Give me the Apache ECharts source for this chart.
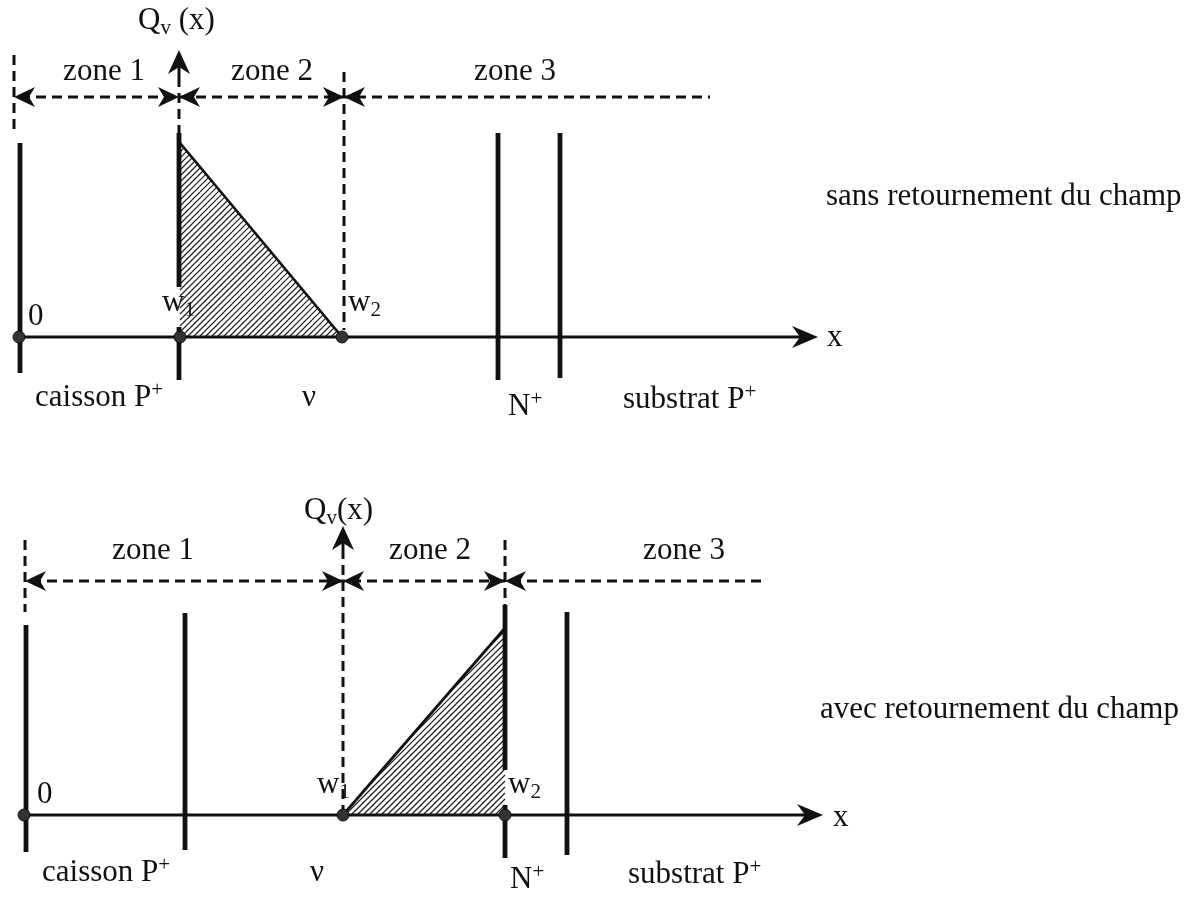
<!DOCTYPE html>
<html><head><meta charset="utf-8">
<script src="https://cdn.jsdelivr.net/npm/echarts@6/dist/echarts.min.js"></script>
<style>html,body{margin:0;padding:0;background:#fff}#c{width:1201px;height:898px}</style>
</head><body><div id="c"></div>
<script>
// ---------------- data (diagram units) ----------------
const panelTitles = ['sans retournement du champ', 'avec retournement du champ'];

// top panel : sans retournement du champ
const topAxisX = [1.4, 81.8];                      // x axis from .. to (arrow tip)
const topZoneBounds = [1.4, 17.9, 34.4];           // zone limits (dashed)
const topZoneLine = [1.4, 71.0, 24.0];             // x start, x end, y level
const topBoundaryDashes = [[1.4, 28.2, 20.7], [34.4, 26.5, 0.7]]; // x, y top, y bottom
const topQv = [17.9, 28.7, 26.0, 20.4];            // x, arrow tip, dash top, dash bottom
const topSolids = [[2.0, 19.4, -3.6], [17.9, 20.4, 5.0], [17.9, 1.0, -4.3], [49.8, 20.4, -4.3], [56.0, 20.4, -4.1]];
const topTriangle = [[18.0, 19.4], [18.0, 0], [34.2, 0]];
const topHyp = [[18.0, 19.4], [34.2, 0]];
const topDots = [1.9, 18.0, 34.2];
const topLabels = [
  [['Q', '_v', ' (x)'], 13.8, 30.6, 'left'],
  [['zone 1'], 10.4, 25.5, 'center'],
  [['zone 2'], 27.2, 25.5, 'center'],
  [['zone 3'], 51.5, 25.5, 'center'],
  [['0'], 2.8, 1.0, 'left'],
  [['w', '_1'], 16.2, 2.4, 'left'],
  [['w', '_2'], 34.8, 2.4, 'left'],
  [['caisson P', '^+'], 3.5, -7.1, 'left'],
  [['\u03bd'], 30.2, -7.1, 'left'],
  [['N', '^+'], 50.8, -8.0, 'left'],
  [['substrat P', '^+'], 62.3, -7.3, 'left'],
  [['x'], 82.7, -1.1, 'left'],
  [[panelTitles[0]], 82.6, 13.0, 'left']
];

// bottom panel : avec retournement du champ
const botAxisX = [2.4, 82.3];
const botZoneBounds = [2.5, 34.3, 50.5];
const botZoneLine = [2.5, 76.3, 23.4];
const botBoundaryDashes = [[2.5, 27.5, 20.3], [50.5, 27.5, 21.0]];
const botQv = [34.3, 28.9, 26.6, 0];
const botSolids = [[2.6, 19.0, -3.7], [18.5, 20.2, -3.5], [50.5, 21.0, 4.5], [50.5, 1.0, -4.3], [56.7, 20.3, -4.0]];
const botTriangle = [[34.3, 0], [50.5, 0], [50.5, 18.7]];
const botHyp = [[34.3, 0], [50.5, 18.7]];
const botDots = [2.4, 34.3, 50.5];
const botLabels = [
  [['Q', '_v', '(x)'], 30.4, 29.4, 'left'],
  [['zone 1'], 15.3, 25.4, 'center'],
  [['zone 2'], 43.0, 25.4, 'center'],
  [['zone 3'], 68.4, 25.4, 'center'],
  [['0'], 3.7, 1.0, 'left'],
  [['w', '_1'], 31.7, 2.0, 'left'],
  [['w', '_2'], 50.8, 2.0, 'left'],
  [['caisson P', '^+'], 4.2, -6.8, 'left'],
  [['\u03bd'], 31.0, -6.8, 'left'],
  [['N', '^+'], 51.0, -7.5, 'left'],
  [['substrat P', '^+'], 62.8, -7.0, 'left'],
  [['x'], 83.3, -1.3, 'left'],
  [[panelTitles[1]], 82.0, 9.5, 'left']
];

// ---------------- drawing ----------------
const FONT = '"Liberation Serif", "Times New Roman", serif';
const BASE = 31, SMALL = 21;
const mctx = document.createElement('canvas').getContext('2d');
function measure(t, size) { mctx.font = size + 'px ' + FONT; return mctx.measureText(t).width; }

function dart(tip, dir, L, W, notch) {
  const [tx, ty] = tip, [dx, dy] = dir, px = -dy, py = dx;
  const bx = tx - dx * L, by = ty - dy * L;
  const nx = tx - dx * (L - notch), ny = ty - dy * (L - notch);
  return [[tx, ty], [bx + px * W, by + py * W], [nx, ny], [bx - px * W, by - py * W]];
}

function hatchLines(pts, step) {
  const sums = pts.map(p => p[0] + p[1]);
  const lo = Math.min(...sums), hi = Math.max(...sums);
  const out = [];
  for (let c = lo + step / 2; c < hi; c += step) {
    const hits = [];
    for (let i = 0; i < pts.length; i++) {
      const p = pts[i], q = pts[(i + 1) % pts.length];
      const fp = p[0] + p[1] - c, fq = q[0] + q[1] - c;
      if (fp === fq) continue;
      if (fp * fq <= 0) {
        const t = fp / (fp - fq);
        hits.push([p[0] + (q[0] - p[0]) * t, p[1] + (q[1] - p[1]) * t]);
      }
    }
    if (hits.length >= 2) {
      hits.sort((a, b) => a[0] - b[0]);
      out.push([hits[0], hits[hits.length - 1]]);
    }
  }
  return out;
}

function textGroup(parts, x, y, align) {
  // y is the baseline (pixels)
  const items = parts.map(s => {
    let kind = 'n', t = s;
    if (s[0] === '_') { kind = 'sub'; t = s.slice(1); }
    else if (s[0] === '^') { kind = 'sup'; t = s.slice(1); }
    const size = kind === 'n' ? BASE : SMALL;
    return { t, kind, size, w: measure(t, size) };
  });
  const total = items.reduce((a, b) => a + b.w, 0);
  let cx = align === 'center' ? x - total / 2 : x;
  const els = [];
  items.forEach(it => {
    let by = y;
    if (it.kind === 'sub') by = y + 5;
    if (it.kind === 'sup') by = y - 10;
    els.push({
      type: 'text', x: cx, y: by - 0.34 * it.size,
      style: { text: it.t, fontFamily: FONT, fontSize: it.size, fill: '#111', align: 'left', verticalAlign: 'middle' }
    });
    cx += it.w;
  });
  return els;
}

function makeRender(P) {
  return function (params, api) {
    const C = (x, y) => api.coord([x, y]);
    const ch = [];
    const ink = '#111';
    // hatching
    const tri = P.triangle.map(p => C(p[0], p[1]));
    hatchLines(tri, 6).forEach(([a, b]) => ch.push({ type: 'line', shape: { x1: a[0], y1: a[1], x2: b[0], y2: b[1] }, style: { stroke: '#222', lineWidth: 1.2 } }));
    // hypotenuse
    const h0 = C(P.hyp[0][0], P.hyp[0][1]), h1 = C(P.hyp[1][0], P.hyp[1][1]);
    ch.push({ type: 'line', shape: { x1: h0[0], y1: h0[1], x2: h1[0], y2: h1[1] }, style: { stroke: ink, lineWidth: 2.7 } });
    // x axis
    const a0 = C(P.axisX[0], 0), a1 = C(P.axisX[1], 0);
    ch.push({ type: 'line', shape: { x1: a0[0], y1: a0[1], x2: a1[0] - 10, y2: a1[1] }, style: { stroke: ink, lineWidth: 3.2 } });
    ch.push({ type: 'polygon', shape: { points: dart(a1, [1, 0], 26, 11, 8) }, style: { fill: ink } });
    // solid device lines
    P.solids.forEach(s => {
      const p = C(s[0], s[1]), q = C(s[0], s[2]);
      ch.push({ type: 'line', shape: { x1: p[0], y1: p[1], x2: q[0], y2: q[1] }, style: { stroke: ink, lineWidth: 4.8 } });
    });
    // dashed boundaries
    const dashStyle = { stroke: ink, lineWidth: 3, lineDash: [10, 6] };
    P.boundaryDashes.forEach(s => {
      const p = C(s[0], s[1]), q = C(s[0], s[2]);
      ch.push({ type: 'line', shape: { x1: p[0], y1: p[1], x2: q[0], y2: q[1] }, style: dashStyle });
    });
    // Qv axis (dashed + arrow)
    const qt = C(P.qv[0], P.qv[1]), qa = C(P.qv[0], P.qv[2]), qb = C(P.qv[0], P.qv[3]);
    ch.push({ type: 'line', shape: { x1: qa[0], y1: qa[1], x2: qb[0], y2: qb[1] }, style: dashStyle });
    ch.push({ type: 'line', shape: { x1: qt[0], y1: qt[1] + 10, x2: qa[0], y2: qa[1] }, style: { stroke: ink, lineWidth: 3 } });
    ch.push({ type: 'polygon', shape: { points: dart(qt, [0, -1], 24, 11, 7) }, style: { fill: ink } });
    // zone line
    const z0 = C(P.zoneLine[0], P.zoneLine[2]), z1 = C(P.zoneLine[1], P.zoneLine[2]);
    ch.push({ type: 'line', shape: { x1: z0[0] + 6, y1: z0[1], x2: z1[0], y2: z1[1] }, style: dashStyle });
    P.zoneBounds.forEach((b, i) => {
      const t = C(b, P.zoneLine[2]);
      ch.push({ type: 'polygon', shape: { points: dart(t, [-1, 0], 21, 10, 6) }, style: { fill: ink } });
      if (i > 0) ch.push({ type: 'polygon', shape: { points: dart(t, [1, 0], 21, 10, 6) }, style: { fill: ink } });
    });
    // dots
    P.dots.forEach(d => {
      const c = C(d, 0);
      ch.push({ type: 'circle', shape: { cx: c[0], cy: c[1], r: 6 }, style: { fill: '#333', stroke: ink, lineWidth: 1 } });
    });
    // labels
    P.labels.forEach(l => {
      const p = C(l[1], l[2]);
      textGroup(l[0], p[0], p[1], l[3]).forEach(e => ch.push(e));
    });
    return { type: 'group', children: ch };
  };
}

const topPanel = { axisX: topAxisX, zoneBounds: topZoneBounds, zoneLine: topZoneLine, boundaryDashes: topBoundaryDashes, qv: topQv, solids: topSolids, triangle: topTriangle, hyp: topHyp, dots: topDots, labels: topLabels };
const botPanel = { axisX: botAxisX, zoneBounds: botZoneBounds, zoneLine: botZoneLine, boundaryDashes: botBoundaryDashes, qv: botQv, solids: botSolids, triangle: botTriangle, hyp: botHyp, dots: botDots, labels: botLabels };

const chart = echarts.init(document.getElementById('c'), null, { renderer: 'canvas' });
chart.setOption({
  backgroundColor: '#fff',
  animation: false,
  grid: [
    { left: 0, top: 0, width: 1201, height: 449 },
    { left: 0, top: 449, width: 1201, height: 449 }
  ],
  xAxis: [
    { type: 'value', gridIndex: 0, min: 0, max: 120.1, show: false },
    { type: 'value', gridIndex: 1, min: 0, max: 120.1, show: false }
  ],
  yAxis: [
    { type: 'value', gridIndex: 0, min: -11.2, max: 33.7, show: false },
    { type: 'value', gridIndex: 1, min: -8.3, max: 36.6, show: false }
  ],
  series: [
    { type: 'custom', xAxisIndex: 0, yAxisIndex: 0, data: [[0, 0]], renderItem: makeRender(topPanel), silent: true, clip: false },
    { type: 'custom', xAxisIndex: 1, yAxisIndex: 1, data: [[0, 0]], renderItem: makeRender(botPanel), silent: true, clip: false }
  ]
});
</script>
</body></html>
